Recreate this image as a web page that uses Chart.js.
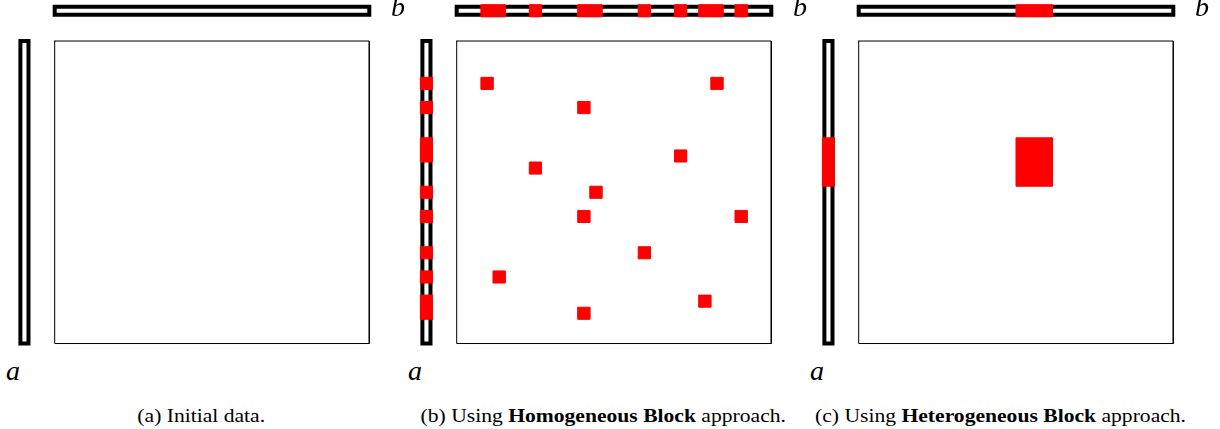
<!DOCTYPE html>
<html>
<head>
<meta charset="utf-8">
<script src="https://cdn.jsdelivr.net/npm/chart.js@4.4.0/dist/chart.umd.min.js"></script>
<style>
  body { margin: 0; width: 1220px; height: 429px; background: #fff; position: relative; overflow: hidden;
         font-family: "Liberation Serif", "Times New Roman", serif; color: #000; }
  .panel { position: absolute; top: 0; width: 400px; height: 350px; }
  .lbl { position: absolute; font-style: italic; font-size: 28px; line-height: 28px; }
  .cap { position: absolute; top: 407px; width: 402px; text-align: center; font-size: 18px; line-height: 18px;
         white-space: nowrap; }
  .cap span.in { display: inline-block; transform: scaleX(1.2); }
</style>
</head>
<body>
<div class="panel" style="left:0px"><canvas id="chartA"></canvas></div>
<div class="panel" style="left:402px"><canvas id="chartB"></canvas></div>
<div class="panel" style="left:804px"><canvas id="chartC"></canvas></div>

<div class="lbl" style="left:391px; top:-7px">b</div>
<div class="lbl" style="left:793px; top:-7px">b</div>
<div class="lbl" style="left:1195px; top:-7px">b</div>
<div class="lbl" style="left:6px; top:357px">a</div>
<div class="lbl" style="left:408px; top:357px">a</div>
<div class="lbl" style="left:810px; top:357px">a</div>

<div class="cap" style="left:0px"><span class="in">(a) Initial data.</span></div>
<div class="cap" style="left:402px"><span class="in">(b) Using <b>Homogeneous Block</b> approach.</span></div>
<div class="cap" style="left:800px"><span class="in">(c) Using <b>Heterogeneous Block</b> approach.</span></div>

<script>
// matrix size (cells)
const nCols = 26;
const nRows = 25;

// (b) homogeneous blocks, one row/col pair per 1x1 block
const homBlockRows = [3, 3, 5, 9, 10, 12, 14, 14, 17, 19, 21, 22];
const homBlockCols = [2, 21, 10, 18, 6, 11, 10, 23, 15, 3, 20, 10];
// cells marked in vector a (rows) and vector b (cols)
const homRowsA = [3, 5, 8, 9, 12, 14, 17, 19, 21, 22];
const homColsB = [2, 3, 6, 10, 11, 15, 18, 20, 21, 23];

// (c) heterogeneous: one block covering these rows / cols
const hetRows = [8, 9, 10, 11];
const hetCols = [13, 14, 15];

const CELL = 12.1;      // px per cell
const X_MIN = -4.52;
const Y_MIN = -3.39;
const VEC = [-3, -2];   // band where the a / b vectors sit
const INSET = 2 / CELL;

const RED = "#ff0000";

const rect = (x0, y0, x1, y1) => [
  { x: x0, y: y0 }, { x: x1, y: y0 }, { x: x1, y: y1 }, { x: x0, y: y1 }, { x: x0, y: y0 }
];

const outline = (pts, width) => ({
  data: pts,
  borderColor: "#000",
  borderWidth: width,
  borderCapStyle: "square",
  borderJoinStyle: "miter",
  fill: false,
  pointRadius: 0,
  order: 1,
});

const redBox = (pts) => ({
  data: pts,
  borderColor: RED,
  backgroundColor: RED,
  borderWidth: 1,
  borderJoinStyle: "miter",
  fill: "shape",
  pointRadius: 0,
  order: 0,
});

const frame = () => [
  outline(rect(0, 0, nCols, nRows), 1),
  outline(rect(0, VEC[0] + INSET, nCols, VEC[1] - INSET), 4),
  outline(rect(VEC[0] + INSET, 0, VEC[1] - INSET, nRows), 4),
];

const makeChart = (id, datasets) => {
  const el = document.getElementById(id);
  const w = el.parentNode.clientWidth;
  const h = el.parentNode.clientHeight;
  new Chart(el, {
    type: "line",
    data: { datasets },
    options: {
      responsive: true,
      maintainAspectRatio: false,
      animation: false,
      layout: { padding: 0 },
      elements: { line: { tension: 0 } },
      scales: {
        x: { type: "linear", min: X_MIN, max: X_MIN + w / CELL, display: false },
        y: { type: "linear", min: Y_MIN, max: Y_MIN + h / CELL, reverse: true, display: false },
      },
      plugins: { legend: { display: false }, tooltip: { enabled: false } },
    },
  });
};

// (a) initial data
makeChart("chartA", frame());

// (b) homogeneous
const dsB = frame();
homBlockRows.forEach((r, i) => {
  const c = homBlockCols[i];
  dsB.push(redBox(rect(c, r, c + 1, r + 1)));
});
homRowsA.forEach((r) => dsB.push(redBox(rect(VEC[0], r, VEC[1], r + 1))));
homColsB.forEach((c) => dsB.push(redBox(rect(c, VEC[0], c + 1, VEC[1]))));
makeChart("chartB", dsB);

// (c) heterogeneous
const r0 = Math.min(...hetRows), r1 = Math.max(...hetRows) + 1;
const c0 = Math.min(...hetCols), c1 = Math.max(...hetCols) + 1;
const dsC = frame();
dsC.push(redBox(rect(c0, r0, c1, r1)));
dsC.push(redBox(rect(VEC[0], r0, VEC[1], r1)));
dsC.push(redBox(rect(c0, VEC[0], c1, VEC[1])));
makeChart("chartC", dsC);
</script>
</body>
</html>
